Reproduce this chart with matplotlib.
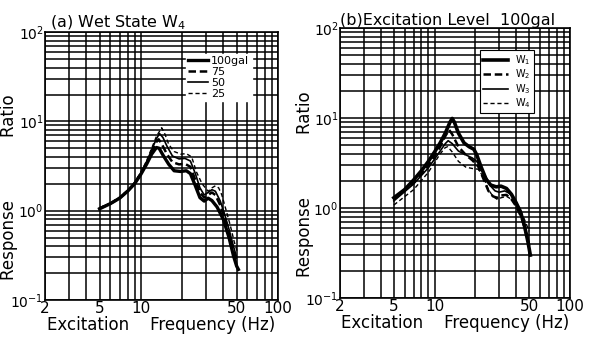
import matplotlib
matplotlib.use("Agg")
import matplotlib.pyplot as plt
from matplotlib.ticker import LogLocator, NullFormatter, LogFormatterMathtext
import numpy as np

# (a) Wet State W4 -- excitation levels
f_100 = [5, 6, 7, 8, 9, 10, 11, 12, 13, 13.6, 14.5, 16, 17.5, 19.5, 21.5, 23, 25, 27, 29, 31, 33, 36, 40, 44, 47.5, 50, 51.5]
r_100 = [1.05, 1.2, 1.38, 1.65, 2.0, 2.55, 3.3, 4.3, 5.1, 5.0, 4.2, 3.3, 2.8, 2.75, 2.8, 2.6, 1.9, 1.4, 1.28, 1.38, 1.3, 1.1, 0.8, 0.5, 0.31, 0.24, 0.22]
f_75 = [5, 6, 7, 8, 9, 10, 11, 12, 13, 13.5, 14.2, 15.5, 17, 19, 21, 23, 25, 27, 29, 31, 33, 35, 38, 41, 44, 47, 50]
r_75 = [1.06, 1.2, 1.38, 1.65, 2.0, 2.6, 3.4, 4.6, 5.9, 6.3, 5.6, 4.3, 3.5, 3.3, 3.35, 3.1, 2.2, 1.6, 1.4, 1.5, 1.6, 1.5, 1.15, 0.8, 0.55, 0.38, 0.27]
f_50 = [5, 6, 7, 8, 9, 10, 11, 12, 13, 13.7, 14.5, 15.5, 17, 19, 21, 23, 25, 27, 29, 31, 33, 35, 38, 41, 44, 47, 50]
r_50 = [1.07, 1.21, 1.4, 1.68, 2.05, 2.65, 3.5, 4.8, 6.4, 7.3, 6.6, 5.3, 4.1, 3.8, 3.85, 3.6, 2.6, 1.8, 1.5, 1.6, 1.72, 1.65, 1.28, 0.9, 0.62, 0.42, 0.3]
f_25 = [5, 6, 7, 8, 9, 10, 11, 12, 13, 14.2, 15, 16, 17.5, 19.5, 21.5, 23.5, 25.5, 28, 31, 33, 35, 37, 39, 42, 45, 48, 50.5]
r_25 = [1.08, 1.22, 1.42, 1.7, 2.08, 2.7, 3.6, 5.0, 6.8, 8.5, 7.2, 5.5, 4.6, 4.3, 4.35, 4.0, 2.7, 2.0, 1.65, 1.8, 1.9, 1.8, 1.5, 1.0, 0.68, 0.45, 0.35]

# (b) Excitation level 100gal -- wet states
f_w1 = [5, 6, 7, 8, 9, 10, 11, 12, 13, 13.5, 14, 15, 16.5, 18, 19.5, 20.5, 22, 24, 26, 28.5, 31, 34, 37, 40, 43, 46, 49, 51]
r_w1 = [1.3, 1.6, 2.05, 2.6, 3.3, 4.2, 5.3, 6.8, 9.0, 9.9, 9.0, 6.8, 5.3, 4.8, 4.5, 3.9, 2.9, 2.1, 1.8, 1.72, 1.75, 1.65, 1.42, 1.15, 0.92, 0.65, 0.42, 0.3]
f_w2 = [5, 7, 9, 10, 11, 12, 12.8, 13.5, 15, 17, 19, 21, 23, 25, 27, 29, 31, 34, 37, 40, 44, 47, 50]
r_w2 = [1.25, 1.9, 3.0, 3.8, 4.8, 6.3, 7.4, 6.6, 4.8, 3.9, 3.4, 2.9, 2.1, 1.55, 1.35, 1.3, 1.38, 1.4, 1.25, 1.05, 0.78, 0.55, 0.38]
f_w3 = [5, 7, 9, 10, 11, 12, 12.6, 13.5, 15, 17, 19, 20.5, 22, 24, 26, 28, 30, 33, 36, 40, 44, 47, 50]
r_w3 = [1.2, 1.85, 2.8, 3.5, 4.3, 5.2, 5.6, 5.2, 4.3, 3.9, 3.6, 3.3, 2.8, 2.2, 1.75, 1.55, 1.5, 1.55, 1.45, 1.15, 0.82, 0.58, 0.4]
f_w4 = [5, 7, 9, 10, 11, 12, 12.5, 13.5, 15, 17, 19, 21, 23, 25, 27, 29, 31, 34, 37, 40, 44, 47, 50]
r_w4 = [1.08, 1.6, 2.5, 3.2, 4.0, 4.7, 4.8, 4.2, 3.3, 2.85, 2.75, 2.7, 2.2, 1.6, 1.35, 1.25, 1.3, 1.35, 1.25, 1.1, 0.88, 0.7, 0.55]

x_ticks = [2, 5, 10, 50, 100]

fig = plt.figure(figsize=(5.94, 3.37), dpi=100)
ax1 = fig.add_axes([0.0758, 0.1098, 0.392, 0.795])
ax2 = fig.add_axes([0.5724, 0.1157, 0.387, 0.801])


def setup(ax):
    ax.set_xscale("log")
    ax.set_yscale("log")
    ax.set_xlim(2, 100)
    ax.set_ylim(0.1, 100)
    ax.set_xticks(x_ticks)
    ax.set_xticklabels([str(t) for t in x_ticks])
    ax.xaxis.set_minor_locator(LogLocator(base=10, subs=np.arange(2, 10)))
    ax.xaxis.set_minor_formatter(NullFormatter())
    ax.yaxis.set_major_locator(LogLocator(base=10))
    ax.yaxis.set_major_formatter(LogFormatterMathtext())
    ax.yaxis.set_minor_locator(LogLocator(base=10, subs=np.arange(2, 10)))
    ax.yaxis.set_minor_formatter(NullFormatter())
    ax.grid(True, which="both", color="black", linewidth=1.1)
    ax.tick_params(which="both", length=0, labelsize=11, pad=1)
    ax.tick_params(axis="y", labelsize=10)
    for s in ax.spines.values():
        s.set_linewidth(1.2)
    ax.set_axisbelow(True)
    ax.set_xlabel("Excitation    Frequency (Hz)", fontsize=12, labelpad=0)
    ax.set_ylabel("Response            Ratio", fontsize=12)
    ax.yaxis.set_label_coords(-0.115, 0.42)


setup(ax1)
ax1.plot(f_100, r_100, color="black", lw=2.4, label="100gal")
ax1.plot(f_75, r_75, color="black", lw=1.8, ls=(0, (3, 1.5)), label="75")
ax1.plot(f_50, r_50, color="black", lw=1.2, label="50")
ax1.plot(f_25, r_25, color="black", lw=1.0, ls=(0, (3, 2)), label="25")
ax1.set_title("(a) Wet State W$_4$", fontsize=11.5, loc="left", x=0.02, pad=2)
leg1 = ax1.legend(loc="upper left", bbox_to_anchor=(0.58, 0.94), fontsize=8,
                  handlelength=1.8, labelspacing=0.1, handletextpad=0.3,
                  borderpad=0.2, fancybox=False, framealpha=1)
leg1.get_frame().set_edgecolor("white")

setup(ax2)
ax2.plot(f_w1, r_w1, color="black", lw=2.6, label="W$_1$")
ax2.plot(f_w2, r_w2, color="black", lw=1.8, ls=(0, (3, 1.5)), label="W$_2$")
ax2.plot(f_w3, r_w3, color="black", lw=1.2, label="W$_3$")
ax2.plot(f_w4, r_w4, color="black", lw=1.0, ls=(0, (3, 2)), label="W$_4$")
ax2.set_title("(b)Excitation Level  100gal", fontsize=11.5, loc="left", x=0.0, pad=2)
leg2 = ax2.legend(loc="upper left", bbox_to_anchor=(0.59, 0.935), fontsize=7,
                  handlelength=2.5, labelspacing=0.05, handletextpad=0.8,
                  borderpad=0.3, fancybox=False, framealpha=1)
leg2.get_frame().set_edgecolor("black")
leg2.get_frame().set_linewidth(0.8)

fig.savefig("out.png", dpi=100)
